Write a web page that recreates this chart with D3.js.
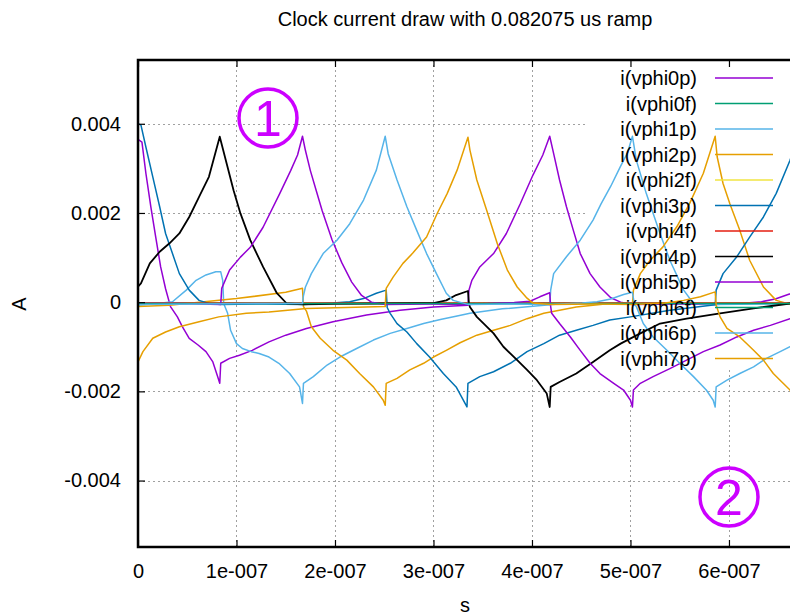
<!DOCTYPE html>
<html>
<head>
<meta charset="utf-8">
<script src="https://cdn.jsdelivr.net/npm/d3@7"></script>
<style>
  body { margin: 0; background: #fff; }
  svg { display: block; font-family: 'Liberation Sans', Arial, sans-serif; }
</style>
</head>
<body>
<div id="chart"></div>
<script>
// time in ns, current in mA (axis labels show s and A)
const seriesNames = ['i(vphi0p)', 'i(vphi0f)', 'i(vphi1p)', 'i(vphi2p)', 'i(vphi2f)', 'i(vphi3p)',
  'i(vphi4f)', 'i(vphi4p)', 'i(vphi5p)', 'i(vphi6f)', 'i(vphi6p)', 'i(vphi7p)'];
const seriesColors = ['#9400d3', '#009e73', '#56b4e9', '#e69f00', '#f0e442', '#0072b2',
  '#e51e10', '#000000', '#9400d3', '#009e73', '#56b4e9', '#e69f00'];

const xTicks = [0, 100, 200, 300, 400, 500, 600];
const xTickLabels = ['0', '1e-007', '2e-007', '3e-007', '4e-007', '5e-007', '6e-007'];
const yTicks = [-4, -2, 0, 2, 4];
const yTickLabels = ['-0.004', '-0.002', '0', '0.002', '0.004'];

const vphi0p = [[0,3.65],[4,3.59],[8,2.89],[13,2.14],[18,1.46],[23,0.79],[28,0.3],[33,-0.1],[40,-0.33],[45,-0.55],[52,-0.81],[61,-0.96],[69,-1.11],[76,-1.34],[81,-1.68],[83,-1.82],
  [84,-1.37],[93,-1.26],[103,-1.19],[116,-1.08],[133,-0.89],[150,-0.74],[171,-0.59],[198,-0.44],[232,-0.29],[266,-0.18],[300,-0.11],[335,-0.07],
  [336,0.27],[339,0.49],[347,0.79],[361,1.09],[374,1.54],[388,2.2],[401,2.85],[411,3.3],[418,3.72],
  [422,3.33],[428,2.74],[435,2.14],[442,1.61],[449,1.09],[459,0.64],[469,0.34],[480,0.1],[490,0.0],[502,-0.05],
  [550,-0.04],[586,-0.05],[618,-0.02],[633,0.01],[647,0.07],[660,0.17],[669,0.24],[670,-0.1],[680,-0.5],[700,-1.0]];
const vphi0f = [[0,-0.02],[170,-0.02],[335,-0.03],[500,-0.02],[700,-0.02]];
const vphi1p = [[0,-0.07],[20,-0.03],[35,0.01],[49,0.27],[59,0.49],[69,0.61],[79,0.68],[84,0.68],[86,0.49],[87,-0.03],[91,-0.25],[94,-0.63],[100,-0.93],[106,-1.04],[115,-1.11],[123,-1.15],[133,-1.23],[143,-1.37],[154,-1.6],[164,-1.9],[167,-2.27],
  [168,-1.82],[178,-1.67],[192,-1.41],[205,-1.23],[222,-1.04],[239,-0.85],[256,-0.7],[273,-0.59],[290,-0.48],[307,-0.39],[324,-0.31],[337,-0.25],[370,-0.15],[418,-0.06],
  [419,0.27],[422,0.64],[435,1.02],[449,1.39],[462,1.84],[470,2.2],[480,2.6],[490,3.05],[497,3.35],[502,3.72],
  [506,3.18],[516,2.44],[530,1.54],[540,0.94],[554,0.27],[564,-0.03],[586,-0.05],[640,-0.04],[670,-0.05],[700,-0.02]];
const vphi2p = [[0,-0.1],[32,-0.07],[100,0.08],[150,0.22],[167,0.31],
  [168,-0.1],[171,-0.2],[176,-0.55],[185,-0.81],[198,-1.08],[212,-1.3],[225,-1.6],[239,-1.9],[249,-2.2],[251,-2.31],
  [252,-1.82],[263,-1.71],[276,-1.52],[290,-1.37],[300,-1.23],[313,-1.08],[327,-0.91],[344,-0.74],[361,-0.63],[378,-0.52],[395,-0.37],[412,-0.25],[428,-0.18],[445,-0.11],[462,-0.07],[479,-0.03],[502,-0.03],
  [503,0.27],[510,0.64],[520,0.94],[533,1.24],[547,1.69],[560,2.21],[574,2.89],[586,3.72],
  [588,3.26],[594,2.66],[601,2.2],[611,1.61],[621,0.94],[635,0.34],[648,0.04],[662,-0.05],[700,-0.05]];
const vphi2f = [[0,-0.02],[170,-0.02],[335,-0.02],[500,-0.02],[700,-0.02]];
const vphi3p = [[0,4.0],[3,3.97],[8,3.48],[15,2.81],[22,2.14],[28,1.54],[35,1.09],[42,0.64],[52,0.27],[62,0.04],[72,-0.03],
  [84,-0.05],[130,-0.04],[168,-0.05],[198,-0.02],[215,0.01],[229,0.08],[242,0.2],[252,0.27],
  [253,-0.12],[256,-0.25],[263,-0.48],[273,-0.67],[283,-0.93],[296,-1.23],[310,-1.6],[323,-1.9],[334,-2.35],
  [335,-1.82],[347,-1.67],[361,-1.56],[378,-1.37],[395,-1.11],[412,-0.93],[428,-0.74],[445,-0.63],[462,-0.52],[479,-0.4],[500,-0.33],[540,-0.18],[586,-0.06],
  [587,0.27],[594,0.64],[608,1.02],[621,1.46],[635,1.91],[648,2.44],[662,3.18],[670,3.72],
  [673,3.4],[678,2.95],[684,2.5],[690,2.05],[700,1.4]];
const vphi4f = [[0,-0.02],[170,-0.02],[335,-0.02],[500,-0.02],[700,-0.02]];
const vphi4p = [[0,0.35],[3,0.42],[12,0.87],[22,1.13],[32,1.32],[42,1.54],[52,1.91],[62,2.36],[72,2.81],[83,3.71],
  [90,3.11],[97,2.51],[104,1.99],[114,1.39],[127,0.79],[141,0.2],[151,-0.03],
  [168,-0.05],[200,-0.04],[250,-0.03],[283,-0.02],[300,-0.02],[313,0.04],[323,0.16],[335,0.25],
  [336,-0.03],[337,-0.11],[344,-0.33],[351,-0.48],[361,-0.7],[371,-1.0],[385,-1.3],[395,-1.52],[405,-1.75],[415,-2.05],[418,-2.35],
  [419,-1.9],[428,-1.79],[445,-1.6],[462,-1.34],[479,-1.08],[490,-0.93],[510,-0.7],[530,-0.48],[557,-0.37],[591,-0.25],[625,-0.14],[662,-0.03],[669,-0.02],
  [670,0.3],[678,0.62],[688,0.92],[698,1.15],[700,1.2]];
const vphi5p = [[0,-0.03],[40,-0.03],[84,-0.05],
  [85,0.31],[93,0.72],[104,1.01],[114,1.23],[127,1.68],[144,2.44],[155,2.95],[162,3.3],[167,3.72],
  [170,3.4],[175,2.95],[181,2.5],[187,2.05],[197,1.4],[207,0.88],[217,0.45],[227,0.15],[237,0.0],[251,-0.05],
  [297,-0.04],[335,-0.05],[367,-0.02],[382,-0.01],[398,0.02],[408,0.12],[418,0.21],
  [419,-0.1],[420,-0.25],[428,-0.48],[439,-0.78],[449,-1.08],[459,-1.37],[469,-1.6],[483,-1.82],[493,-1.97],[500,-2.2],[502,-2.35],
  [503,-1.97],[510,-1.82],[523,-1.67],[540,-1.49],[557,-1.3],[574,-1.11],[591,-0.96],[608,-0.78],[625,-0.63],[642,-0.52],[662,-0.37],[680,-0.28],[700,-0.2]];
const vphi6f = [[0,-0.03],[170,-0.03],[335,-0.03],[500,-0.03],[700,-0.03]];
const vphi6p = [[0,-0.05],[60,-0.04],[120,-0.03],[167,-0.03],
  [168,0.15],[170,0.34],[176,0.64],[188,1.09],[202,1.39],[215,1.76],[229,2.29],[242,2.96],[251,3.72],
  [254,3.33],[263,2.74],[273,2.14],[283,1.61],[293,1.09],[303,0.64],[313,0.2],[320,0.04],[335,-0.05],
  [380,-0.04],[419,-0.05],[451,-0.02],[466,0.01],[480,0.07],[493,0.17],[502,0.22],
  [504,-0.05],[506,-0.1],[513,-0.48],[523,-0.78],[537,-1.08],[550,-1.37],[564,-1.67],[577,-1.97],[584,-2.2],[586,-2.35],
  [587,-1.9],[598,-1.75],[611,-1.6],[625,-1.45],[638,-1.26],[652,-1.11],[662,-1.0],[680,-0.8],[700,-0.65]];
const vphi7p = [[0,-1.34],[5,-1.11],[15,-0.81],[28,-0.67],[42,-0.55],[62,-0.44],[82,-0.33],[110,-0.25],[133,-0.22],[171,-0.14],[251,-0.1],
  [252,0.31],[259,0.56],[269,0.87],[279,1.1],[293,1.46],[304,2.0],[314,2.44],[324,2.96],[335,3.7],
  [337,3.41],[344,2.74],[354,2.06],[365,1.3],[375,0.72],[385,0.34],[395,0.09],[401,-0.02],[419,-0.05],
  [465,-0.04],[502,-0.05],[535,-0.02],[554,0.04],[571,0.12],[586,0.23],
  [587,-0.07],[591,-0.33],[598,-0.59],[611,-0.78],[625,-1.08],[635,-1.3],[645,-1.6],[655,-1.82],[662,-1.97],[670,-2.33],[671,-1.85],[685,-1.68],[700,-1.5]];

const seriesData = [vphi0p, vphi0f, vphi1p, vphi2p, vphi2f, vphi3p, vphi4f, vphi4p, vphi5p, vphi6f, vphi6p, vphi7p];

const w = 790;
const h = 615;
const plotLeft = 138, plotRight = 792, plotTop = 60, plotBottom = 547;
// key box (grid is not drawn under it)
const keyLeft = 585, keyBottom = 370;

const xScale = d3.scaleLinear().domain([0, 664]).range([plotLeft, plotRight]);
const yScale = d3.scaleLinear().domain([-5.49, 5.43]).range([plotBottom, plotTop]);

const svg = d3.select('#chart')
  .append('svg')
  .attr('width', w)
  .attr('height', h);

svg.append('clipPath')
  .attr('id', 'plotClip')
  .append('rect')
  .attr('x', plotLeft)
  .attr('y', plotTop)
  .attr('width', plotRight - plotLeft)
  .attr('height', plotBottom - plotTop);

// grid
const grid = svg.append('g')
  .attr('stroke', '#a0a0a0')
  .attr('stroke-width', 1)
  .attr('stroke-dasharray', '2,3');

grid.selectAll('line.hgrid')
  .data(yTicks)
  .enter()
  .append('line')
  .attr('x1', plotLeft)
  .attr('x2', (d) => yScale(d) < keyBottom ? keyLeft : plotRight)
  .attr('y1', (d) => Math.round(yScale(d)) + 0.5)
  .attr('y2', (d) => Math.round(yScale(d)) + 0.5);

grid.selectAll('line.vgrid')
  .data(xTicks.filter((d) => d > 0))
  .enter()
  .append('line')
  .attr('x1', (d) => Math.round(xScale(d)) + 0.5)
  .attr('x2', (d) => Math.round(xScale(d)) + 0.5)
  .attr('y1', (d) => xScale(d) > keyLeft ? keyBottom : plotTop)
  .attr('y2', plotBottom);

// lines
const line = d3.line()
  .x((d) => xScale(d[0]))
  .y((d) => yScale(d[1]));

const plot = svg.append('g').attr('clip-path', 'url(#plotClip)');
seriesData.forEach(function (data, i) {
  plot.append('path')
    .datum(data)
    .attr('fill', 'none')
    .attr('stroke', seriesColors[i])
    .attr('stroke-width', i === 7 ? 1.8 : 1.5)
    .attr('stroke-linejoin', 'round')
    .attr('d', line);
});

// axes, ticks inward
svg.append('g')
  .attr('transform', 'translate(0,' + plotBottom + ')')
  .call(d3.axisBottom(xScale).tickValues(xTicks).tickSize(-7).tickPadding(17)
    .tickFormat((d, i) => xTickLabels[i]))
  .call((g) => g.select('.domain').remove())
  .call((g) => g.selectAll('line').attr('stroke-width', 1.2))
  .call((g) => g.selectAll('text').style('font-size', '20px').attr('fill', '#000')
    .attr('font-family', "'Liberation Sans', Arial, sans-serif"));

svg.append('g')
  .attr('transform', 'translate(0,' + plotTop + ')')
  .call(d3.axisTop(xScale).tickValues(xTicks).tickSize(-7).tickFormat(''))
  .call((g) => g.select('.domain').remove())
  .call((g) => g.selectAll('line').attr('stroke-width', 1.2));

svg.append('g')
  .attr('transform', 'translate(' + plotLeft + ',0)')
  .call(d3.axisLeft(yScale).tickValues(yTicks).tickSize(-7).tickPadding(17)
    .tickFormat((d, i) => yTickLabels[i]))
  .call((g) => g.select('.domain').remove())
  .call((g) => g.selectAll('line').attr('stroke-width', 1.2))
  .call((g) => g.selectAll('text').style('font-size', '20px').attr('fill', '#000')
    .attr('font-family', "'Liberation Sans', Arial, sans-serif"));

// border
svg.append('rect')
  .attr('x', plotLeft)
  .attr('y', plotTop)
  .attr('width', plotRight - plotLeft)
  .attr('height', plotBottom - plotTop)
  .attr('fill', 'none')
  .attr('stroke', '#000')
  .attr('stroke-width', 2.5);

// title and axis labels
svg.append('text')
  .attr('x', (plotLeft + plotRight) / 2)
  .attr('y', 26)
  .attr('text-anchor', 'middle')
  .style('font-size', '20px')
  .text('Clock current draw with 0.082075 us ramp');

svg.append('text')
  .attr('x', (plotLeft + plotRight) / 2)
  .attr('y', 612)
  .attr('text-anchor', 'middle')
  .style('font-size', '20px')
  .text('s');

svg.append('text')
  .attr('text-anchor', 'middle')
  .attr('transform', 'translate(26,' + 304 + ')rotate(-90)')
  .style('font-size', '20px')
  .text('A');

// key
const key = svg.append('g');
seriesNames.forEach(function (name, i) {
  const y = 78 + i * 25.5;
  key.append('text')
    .attr('x', 697)
    .attr('y', y)
    .attr('dy', '0.35em')
    .attr('text-anchor', 'end')
    .style('font-size', '20px')
    .text(name);
  key.append('line')
    .attr('x1', 715)
    .attr('x2', 773)
    .attr('y1', y)
    .attr('y2', y)
    .attr('stroke', seriesColors[i])
    .attr('stroke-width', 1.5);
});

// circled markers
const marks = [{ x: 268, y: 118, label: '1' }, { x: 729, y: 497, label: '2' }];
marks.forEach(function (m) {
  svg.append('circle')
    .attr('cx', m.x)
    .attr('cy', m.y)
    .attr('r', 29)
    .attr('fill', 'none')
    .attr('stroke', '#cc00ff')
    .attr('stroke-width', 3.5);
  svg.append('text')
    .attr('x', m.x)
    .attr('y', m.y + 18)
    .attr('text-anchor', 'middle')
    .attr('fill', '#cc00ff')
    .style('font-size', '50px')
    .text(m.label);
});
</script>
</body>
</html>
